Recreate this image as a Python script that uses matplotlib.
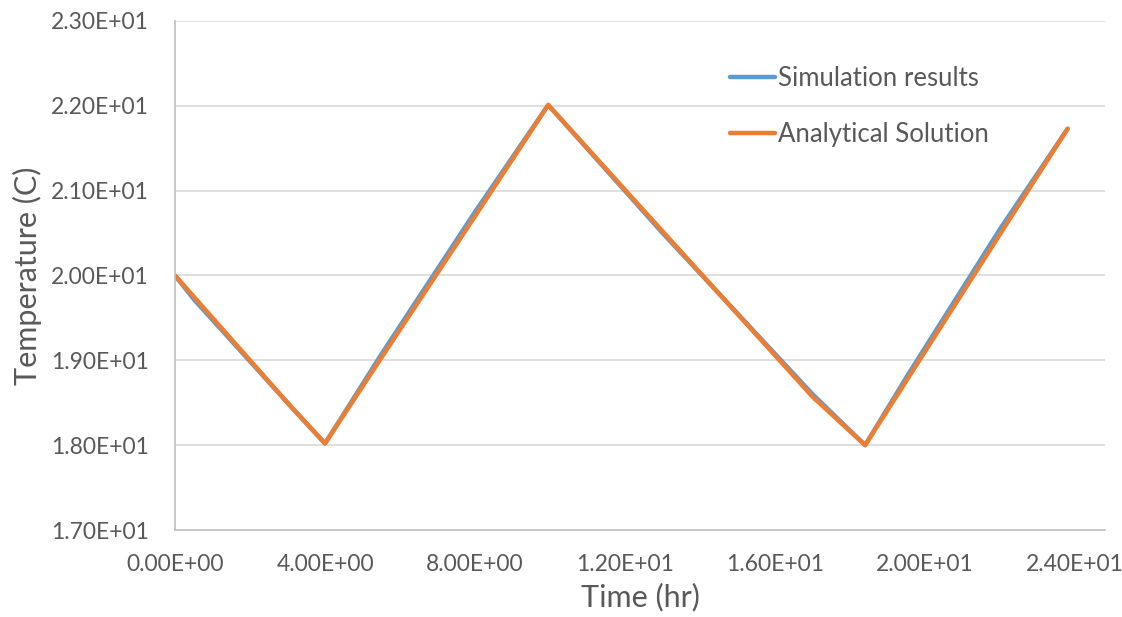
import matplotlib
matplotlib.use("Agg")
import matplotlib.pyplot as plt
from matplotlib.ticker import FormatStrFormatter

plt.rcParams['font.family'] = ['Lato', 'DejaVu Sans']

# temperature history over one day
time_hr = [0.0, 0.5, 3.1, 4.0, 5.5, 8.0, 9.95, 13.0, 17.0, 18.4, 19.5, 22.0, 23.8]
temp_sim = [20.00, 19.72, 18.45, 18.02, 19.07, 20.75, 22.01, 20.50, 18.60, 18.00, 18.80, 20.55, 21.73]
temp_analytical = [20.00, 19.75, 18.45, 18.02, 19.03, 20.70, 22.01, 20.52, 18.57, 18.00, 18.76, 20.49, 21.73]

x_ticks = [0, 4, 8, 12, 16, 20, 24]
y_ticks = [17, 18, 19, 20, 21, 22, 23]

TEXT_COLOR = '#595959'
GRID_COLOR = '#D9D9D9'
AXIS_COLOR = '#BFBFBF'

fig = plt.figure(figsize=(11.22, 6.17), dpi=100)
ax = fig.add_axes([0.156, 0.141, 0.829, 0.825])

ax.plot(time_hr, temp_sim, color='#5B9BD5', lw=3.2, solid_joinstyle='round',
        solid_capstyle='round', label='Simulation results')
ax.plot(time_hr, temp_analytical, color='#ED7D31', lw=3.2, solid_joinstyle='round',
        solid_capstyle='round', label='Analytical Solution')

ax.set_xlim(0, 24.8)
ax.set_ylim(17, 23)
ax.set_xticks(x_ticks)
ax.set_yticks(y_ticks)
ax.xaxis.set_major_formatter(FormatStrFormatter('%.2E'))
ax.yaxis.set_major_formatter(FormatStrFormatter('%.2E'))
ax.tick_params(axis='both', length=0, labelsize=16.5, colors=TEXT_COLOR)
ax.tick_params(axis='x', pad=17)
ax.tick_params(axis='y', pad=19)

ax.set_axisbelow(True)
ax.yaxis.grid(True, color=GRID_COLOR, lw=1.2)
for side in ['top', 'right']:
    ax.spines[side].set_visible(False)
for side in ['left', 'bottom']:
    ax.spines[side].set_color(AXIS_COLOR)
    ax.spines[side].set_linewidth(1.2)

ax.set_xlabel('Time (hr)', fontsize=22, color=TEXT_COLOR, labelpad=6)
ax.set_ylabel('Temperature (C)', fontsize=22, color=TEXT_COLOR, labelpad=6)

leg = ax.legend(loc='upper left', bbox_to_anchor=(717 / 1122, 1 - 53 / 617),
                bbox_transform=fig.transFigure, frameon=False, fontsize=18.5,
                handlelength=1.75, handletextpad=0.12, labelspacing=1.2,
                borderpad=0)
for t in leg.get_texts():
    t.set_color(TEXT_COLOR)

fig.savefig('out.png', dpi=100)
